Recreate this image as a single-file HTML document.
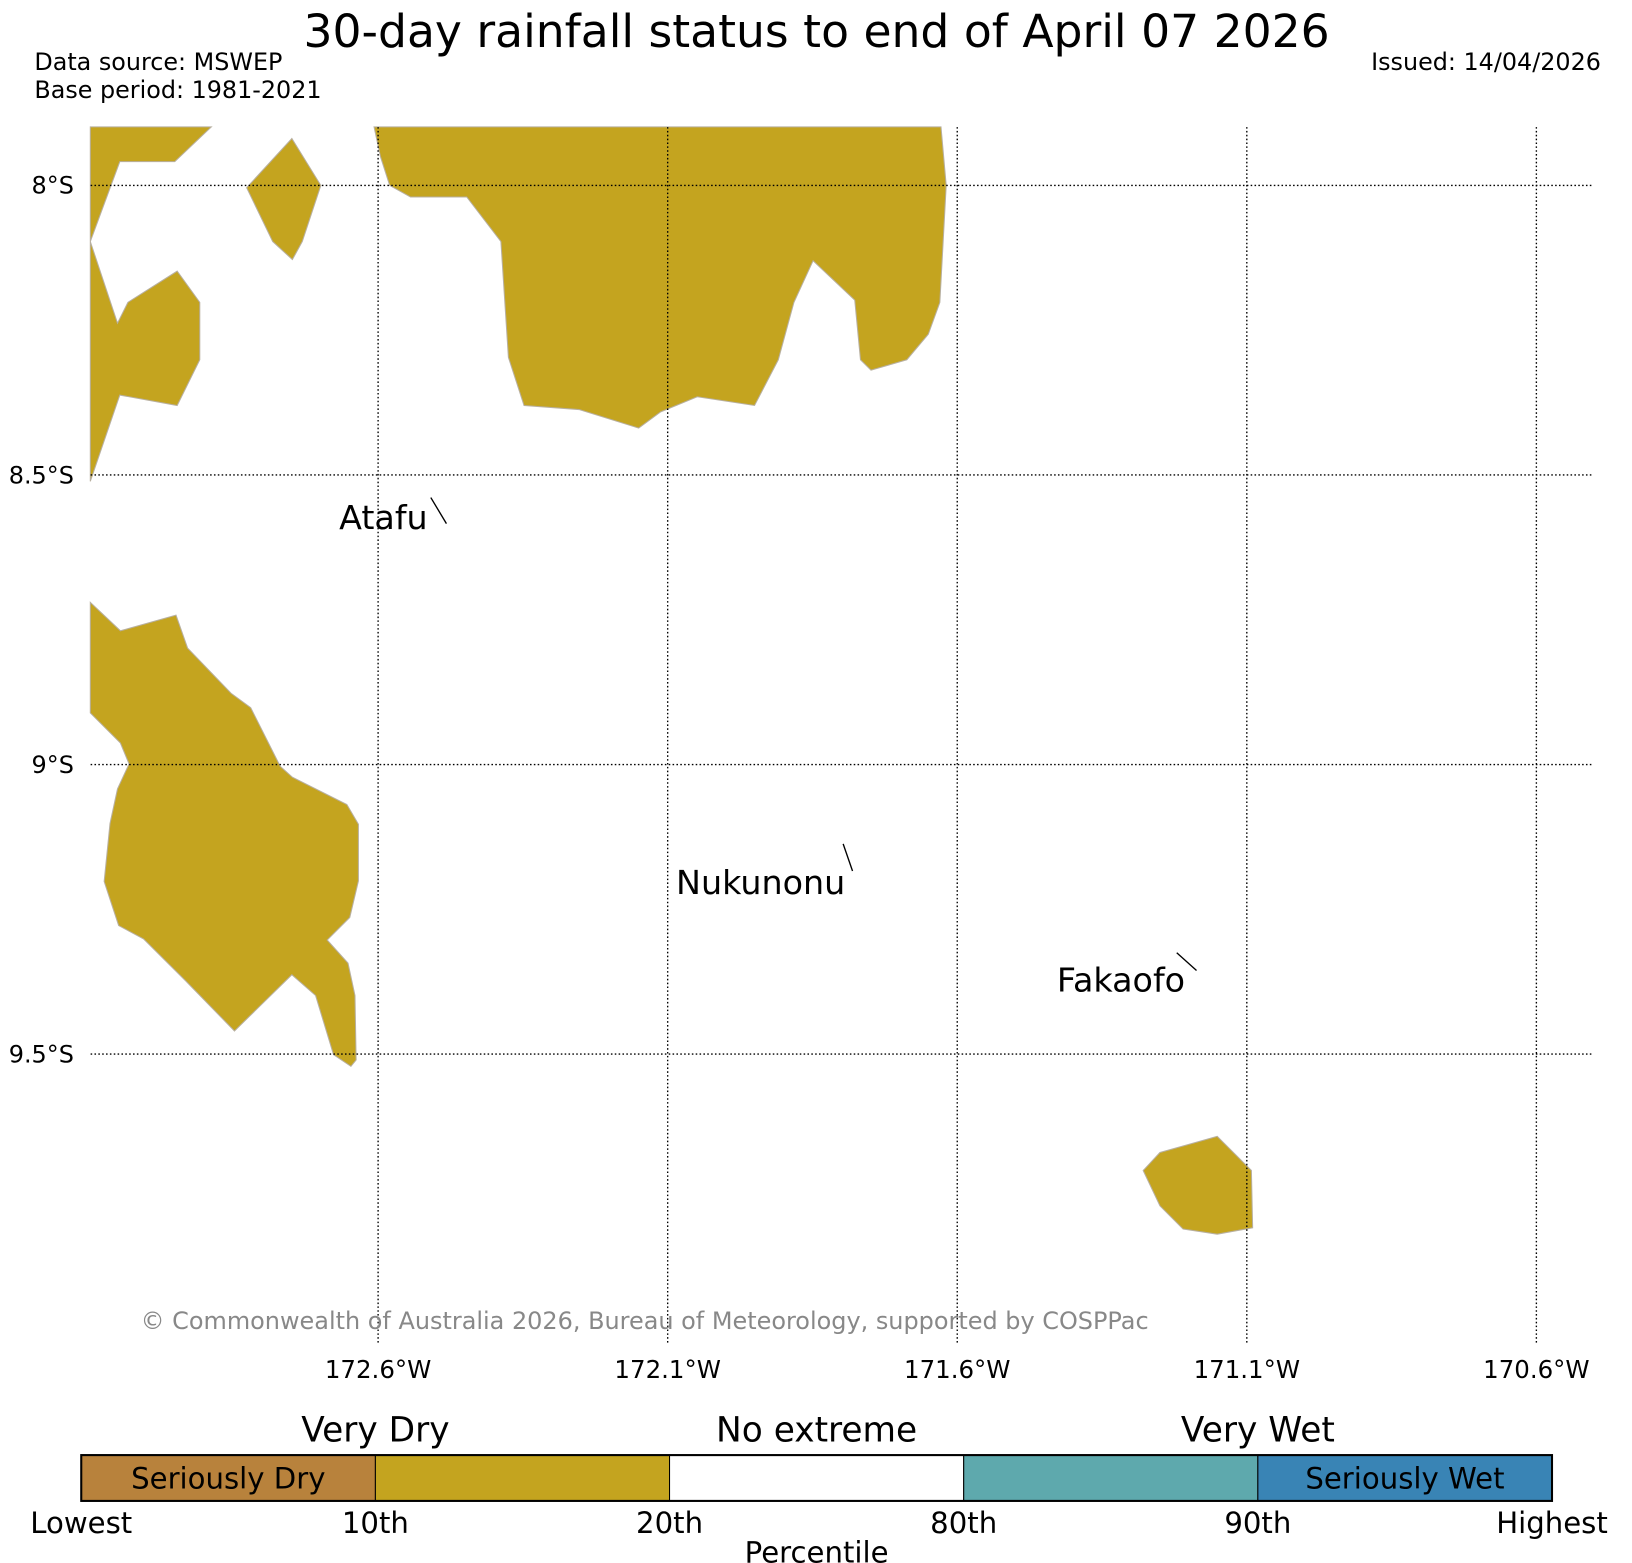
<!DOCTYPE html>
<html><head><meta charset="utf-8"><style>
html,body{margin:0;padding:0;background:#fff;}
svg{display:block;font-family:"DejaVu Sans","Liberation Sans",sans-serif;}
</style></head><body>
<svg id="chart" width="1632" height="1563" viewBox="0 0 1566.8 1500.6" preserveAspectRatio="none" xmlns="http://www.w3.org/2000/svg">
<text x="784" y="45" font-size="43.8" text-anchor="middle">30-day rainfall status to end of April 07 2026</text>
<text x="33" y="67" font-size="22.9">Data source: MSWEP</text>
<text x="33" y="94" font-size="22.9">Base period: 1981-2021</text>
<text x="1537" y="67" font-size="22.9" text-anchor="end">Issued: 14/04/2026</text>
<g id="fills"></g>
<g id="grid"></g>
<g id="labels"></g>
<text x="135" y="1276" font-size="23" fill="#888">© Commonwealth of Australia 2026, Bureau of Meteorology, supported by COSPPac</text>
<g id="cbar"></g>
</svg>
<script>
const lonTicks=[-172.6,-172.1,-171.6,-171.1,-170.6];
const lonTickLabels=["172.6°W","172.1°W","171.6°W","171.1°W","170.6°W"];
const latTicks=[-8,-8.5,-9,-9.5];
const latTickLabels=["8°S","8.5°S","9°S","9.5°S"];
const poly1=[[-173.097,-7.899],[-172.888,-7.899],[-172.951,-7.959],[-173.046,-7.959],[-173.097,-8.097]];
const poly2=[[-173.097,-8.097],[-173.050,-8.238],[-173.032,-8.202],[-172.947,-8.148],[-172.908,-8.202],[-172.908,-8.301],[-172.947,-8.380],[-173.046,-8.362],[-173.097,-8.511]];
const poly3=[[-172.827,-8.004],[-172.749,-7.919],[-172.699,-8.0],[-172.731,-8.097],[-172.748,-8.128],[-172.782,-8.097]];
const poly4=[[-172.607,-7.899],[-171.628,-7.899],[-171.619,-8.0],[-171.630,-8.202],[-171.650,-8.257],[-171.687,-8.301],[-171.749,-8.319],[-171.767,-8.301],[-171.777,-8.198],[-171.849,-8.130],[-171.882,-8.202],[-171.909,-8.301],[-171.950,-8.380],[-172.049,-8.365],[-172.112,-8.391],[-172.150,-8.419],[-172.253,-8.387],[-172.348,-8.380],[-172.375,-8.297],[-172.388,-8.097],[-172.447,-8.020],[-172.544,-8.020],[-172.580,-8.0],[-172.596,-7.950]];
const poly5=[[-173.097,-8.72],[-173.045,-8.769],[-172.949,-8.742],[-172.929,-8.799],[-172.854,-8.877],[-172.820,-8.902],[-172.769,-9.003],[-172.748,-9.022],[-172.654,-9.069],[-172.634,-9.103],[-172.634,-9.201],[-172.649,-9.264],[-172.688,-9.303],[-172.652,-9.343],[-172.640,-9.399],[-172.638,-9.510],[-172.647,-9.521],[-172.677,-9.501],[-172.708,-9.399],[-172.749,-9.363],[-172.848,-9.460],[-172.933,-9.373],[-173.005,-9.301],[-173.048,-9.278],[-173.073,-9.202],[-173.063,-9.102],[-173.050,-9.042],[-173.030,-8.999],[-173.045,-8.963],[-173.097,-8.911]];
const poly6=[[-171.279,-9.701],[-171.250,-9.670],[-171.151,-9.642],[-171.092,-9.701],[-171.090,-9.800],[-171.151,-9.811],[-171.210,-9.802],[-171.250,-9.762]];
const polygons=[poly1,poly2,poly3,poly4,poly5,poly6];
const islandNames=["Atafu","Nukunonu","Fakaofo"];
const islandLon=[-172.509,-171.797,-171.221];
const islandLat=[-8.593,-9.191,-9.379];
const cbarLabels=["Lowest","10th","20th","80th","90th","Highest"];
const cbarColors=["#b8823c","#c4a41f","#ffffff","#5ea9ad","#3984b5"];
const cbarHeads=["Very Dry","No extreme","Very Wet"];

const NS="http://www.w3.org/2000/svg";
const X0=87,X1=1530,Y0=122,Y1=1290;
function xs(lon){return 363+(lon+172.6)*556;}
function ys(lat){return 178+(-8-lat)*556;}
function mk(tag,attrs,parent){const e=document.createElementNS(NS,tag);for(const k in attrs)e.setAttribute(k,attrs[k]);parent.appendChild(e);return e;}
const fills=document.getElementById('fills');
polygons.forEach((p,i)=>{
  const e=mk('polygon',{points:p.map(q=>xs(q[0]).toFixed(1)+','+ys(q[1]).toFixed(1)).join(' '),fill:'#c4a41f',stroke:'#b8b0a0','stroke-width':1},fills);
  
  
});
const grid=document.getElementById('grid');
lonTicks.forEach((v,i)=>{
  const l=mk('line',{x1:xs(v),x2:xs(v),y1:Y0,y2:Y1,stroke:'#000','stroke-width':1.3,'stroke-dasharray':'1.5,2.2'},grid);
  
  
  const t=mk('text',{x:xs(v),y:1323,'font-size':23.5,'text-anchor':'middle'},grid);t.textContent=lonTickLabels[i];
  
  
});
latTicks.forEach((v,i)=>{
  const l=mk('line',{x1:X0,x2:X1,y1:ys(v),y2:ys(v),stroke:'#000','stroke-width':1.3,'stroke-dasharray':'1.5,2.2'},grid);
  
  
  const t=mk('text',{x:71,y:ys(v)+8,'font-size':23,'text-anchor':'end'},grid);t.textContent=latTickLabels[i];
  
  
});
const labels=document.getElementById('labels');
const lineVec=[[15,25],[9,26],[19,17]];
const textDx=[-3,2,8];
const textDy=[0,18,7];
islandNames.forEach((n,i)=>{
  const x=xs(islandLon[i]),y=ys(islandLat[i]);
  const t=mk('text',{x:x+textDx[i],y:y+textDy[i],'font-size':32,'text-anchor':'end'},labels);t.textContent=n;
  
  
  const l=mk('line',{x1:x,y1:y-30,x2:x+lineVec[i][0],y2:y-30+lineVec[i][1],stroke:'#000','stroke-width':1.3},labels);
  
  
});
const cb=document.getElementById('cbar');
const CB0=78,CB1=1490,CBY=1397,CBH=44,seg=(CB1-CB0)/cbarColors.length;
cbarColors.forEach((c,i)=>{
  const r=mk('rect',{x:CB0+i*seg,y:CBY,width:seg,height:CBH,fill:c,stroke:'#000','stroke-width':1},cb);
  
  
});
mk('rect',{x:CB0,y:CBY,width:CB1-CB0,height:CBH,fill:'none',stroke:'#000','stroke-width':2},cb);
cbarLabels.forEach((s,i)=>{
  const t=mk('text',{x:CB0+i*seg,y:1472,'font-size':28,'text-anchor':'middle'},cb);t.textContent=s;
  
  
});
cbarHeads.forEach((s,i)=>{
  const t=mk('text',{x:CB0+seg*(1+1.5*i),y:1384,'font-size':33,'text-anchor':'middle'},cb);t.textContent=s;
  
  
});
[["Seriously Dry",0.5],["Seriously Wet",4.5]].forEach(a=>{
  const t=mk('text',{x:CB0+seg*a[1],y:1429,'font-size':28,'text-anchor':'middle'},cb);t.textContent=a[0];
  
  
});
const pt=mk('text',{x:784,y:1500,'font-size':28,'text-anchor':'middle'},cb);pt.textContent="Percentile";


</script>
</body></html>
